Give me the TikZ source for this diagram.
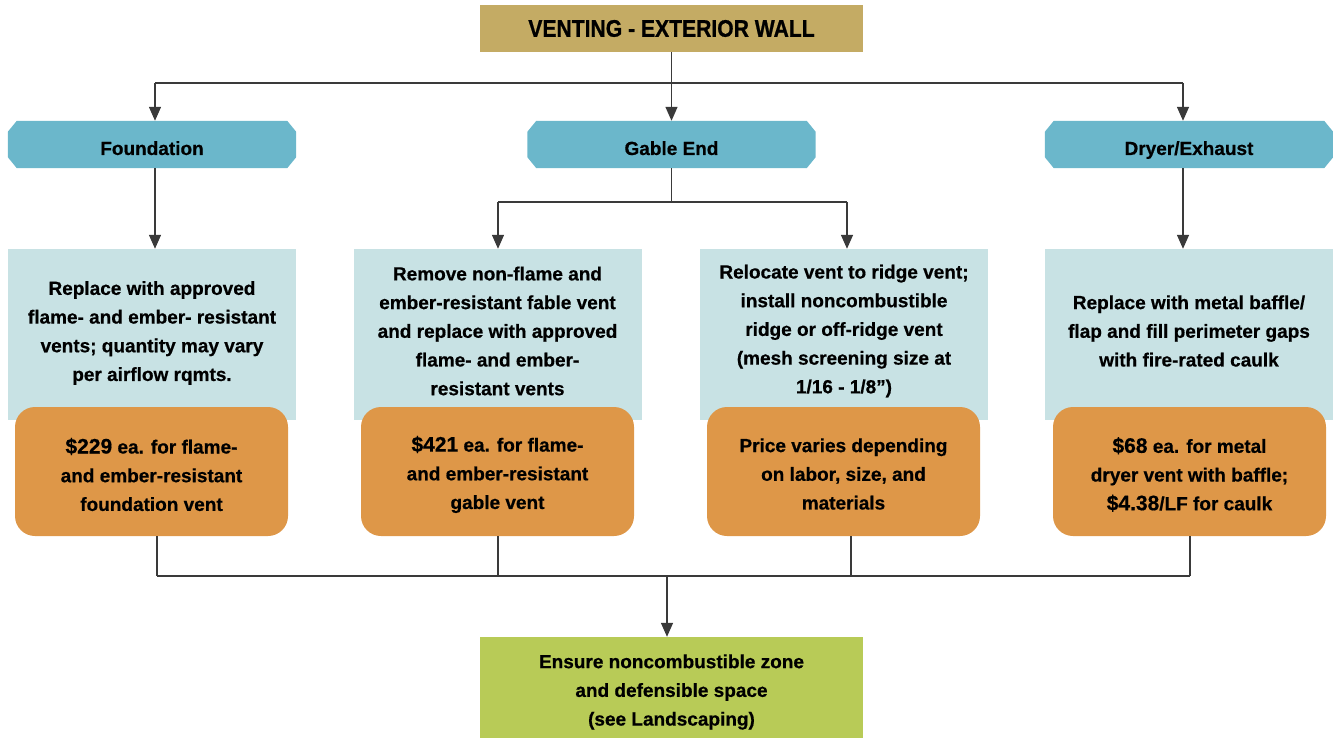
\documentclass[tikz,border=0pt]{standalone}
\usepackage{fontspec}
\setmainfont{Liberation Sans}[BoldFeatures={FakeBold=0.6}]
\newfontfamily\titlefam[FakeStretch=0.88,BoldFeatures={FakeBold=0.8}]{Liberation Sans}
\usetikzlibrary{arrows.meta,backgrounds}
\definecolor{gold}{HTML}{C4AB64}
\definecolor{hdr}{HTML}{6BB7CB}
\definecolor{pale}{HTML}{C8E2E4}
\definecolor{orng}{HTML}{DE9748}
\definecolor{lime}{HTML}{B8CB57}
\definecolor{lncol}{HTML}{3A3A3A}
\begin{document}
\begin{tikzpicture}[x=1pt,y=-1pt,
  txt/.style={font=\fontsize{19}{28.7}\selectfont\bfseries, align=center, text=black, inner sep=0pt},
  titlebox/.style={fill=gold, minimum width=383pt, minimum height=47pt, inner sep=0pt,
    font=\titlefam\fontsize{24}{28}\selectfont\bfseries},
  hdrbox/.style={minimum width=288pt, minimum height=47pt, inner sep=0pt},
  palebox/.style={fill=pale, minimum width=288pt, minimum height=171pt, inner sep=0pt},
  costbox/.style={fill=orng, rounded corners=20pt, minimum width=273pt, minimum height=129pt, inner sep=0pt},
  endbox/.style={fill=lime, minimum width=383pt, minimum height=101pt, inner sep=0pt},
  ln/.style={draw=lncol, line width=1.4pt},
  arr/.style={ln, -{Triangle[width=12pt,length=14pt]}},
  big/.style={font=\fontsize{21}{28.7}\selectfont\bfseries}
]
\useasboundingbox (0,0) rectangle (1333,738);

% title
\node[titlebox] (title) at (671.5,28.5) {VENTING - EXTERIOR WALL};

% headers
\node[hdrbox] (f) at (152,144.5) {};
\node[hdrbox] (g) at (671.5,144.5) {};
\node[hdrbox] (d) at (1189,144.5) {};
\begin{scope}[on background layer]
\foreach \h in {f,g,d}{
  \fill[hdr] ([xshift=9pt]\h.north west) -- ([xshift=-9pt]\h.north east)
    -- ([yshift=-11pt]\h.north east) -- ([yshift=11pt]\h.south east)
    -- ([xshift=-9pt]\h.south east) -- ([xshift=9pt]\h.south west)
    -- ([yshift=11pt]\h.south west) -- ([yshift=-11pt]\h.north west) -- cycle;
}
\end{scope}
\node[txt, anchor=base] (fl) at (152,155) {Foundation};
\node[txt, anchor=base] (gla) at (671.5,155) {Gable End};
\node[txt, anchor=base] (dl) at (1189,155) {Dryer/Exhaust};

% pale boxes
\node[palebox] (p1) at (152,334.5) {};
\node[palebox] (p2) at (497.5,334.5) {};
\node[palebox] (p3) at (844,334.5) {};
\node[palebox] (p4) at (1189,334.5) {};

\node[txt] (t1) at (152,333) {Replace with approved\\flame- and ember- resistant\\vents; quantity may vary\\per airflow rqmts.};
\node[txt] (t2) at (497.5,331) {Remove non-flame and\\ember-resistant fable vent\\and replace with approved\\flame- and ember-\\resistant vents};
\node[txt] (t3) at (844,331) {Relocate vent to ridge vent;\\install noncombustible\\ridge or off-ridge vent\\(mesh screening size at\\1/16 - 1/8”)};
\node[txt] (t4) at (1189,331) {Replace with metal baffle/\\flap and fill perimeter gaps\\with fire-rated caulk};

% cost boxes
\node[costbox] (o1) at (151.5,471.5) {};
\node[costbox] (o2) at (497.5,471.5) {};
\node[costbox] (o3) at (843.5,471.5) {};
\node[costbox] (o4) at (1189.5,471.5) {};
\node[txt] (c1) at (151.5,474.5) {{\fontsize{21}{28.7}\selectfont\$229} ea. for flame-\\and ember-resistant\\foundation vent};
\node[txt] (c2) at (497.5,474.5) {{\fontsize{21}{28.7}\selectfont\$421} ea. for flame-\\and ember-resistant\\gable vent};
\node[txt] (c3) at (843.5,474) {Price varies depending\\on labor, size, and\\materials};
\node[txt] (c4) at (1189.5,474.5) {{\fontsize{21}{28.7}\selectfont\$68} ea. for metal\\dryer vent with baffle;\\{\fontsize{21}{28.7}\selectfont\$4.38}/LF for caulk};

% end box
\node[endbox] (e) at (671.5,687.5) {};
\node[txt] (et) at (671.5,692) {Ensure noncombustible zone\\and defensible space\\(see Landscaping)};

% top connectors
\coordinate (tl) at (155,83);
\coordinate (tr) at (1183,83);
\draw[ln] (tl) -- (tr);
\draw[arr] (title.south) -- (g.north);
\draw[arr] (tl) -- (tl |- f.north);
\draw[arr] (tr) -- (tr |- d.north);

% header to pale
\draw[arr] (f.south -| tl) -- (tl |- p1.north);
\draw[arr] (d.south -| tr) -- (tr |- p4.north);
\coordinate (gl) at (498,202);
\coordinate (gr) at (847,202);
\draw[ln] (g.south) -- (g.south |- gl);
\draw[ln] (gl) -- (gr);
\draw[arr] (gl) -- (gl |- p2.north);
\draw[arr] (gr) -- (gr |- p3.north);

% bottom connectors
\coordinate (b1) at (157,576);
\coordinate (b2) at (498,576);
\coordinate (b3) at (851,576);
\coordinate (b4) at (1190,576);
\coordinate (j) at (667,576);
\draw[ln] (o1.south -| b1) -- (b1);
\draw[ln] (o2.south -| b2) -- (b2);
\draw[ln] (o3.south -| b3) -- (b3);
\draw[ln] (o4.south -| b4) -- (b4);
\draw[ln] (b1) -- (b4);
\draw[arr] (j) -- (j |- e.north);
\end{tikzpicture}
\end{document}
